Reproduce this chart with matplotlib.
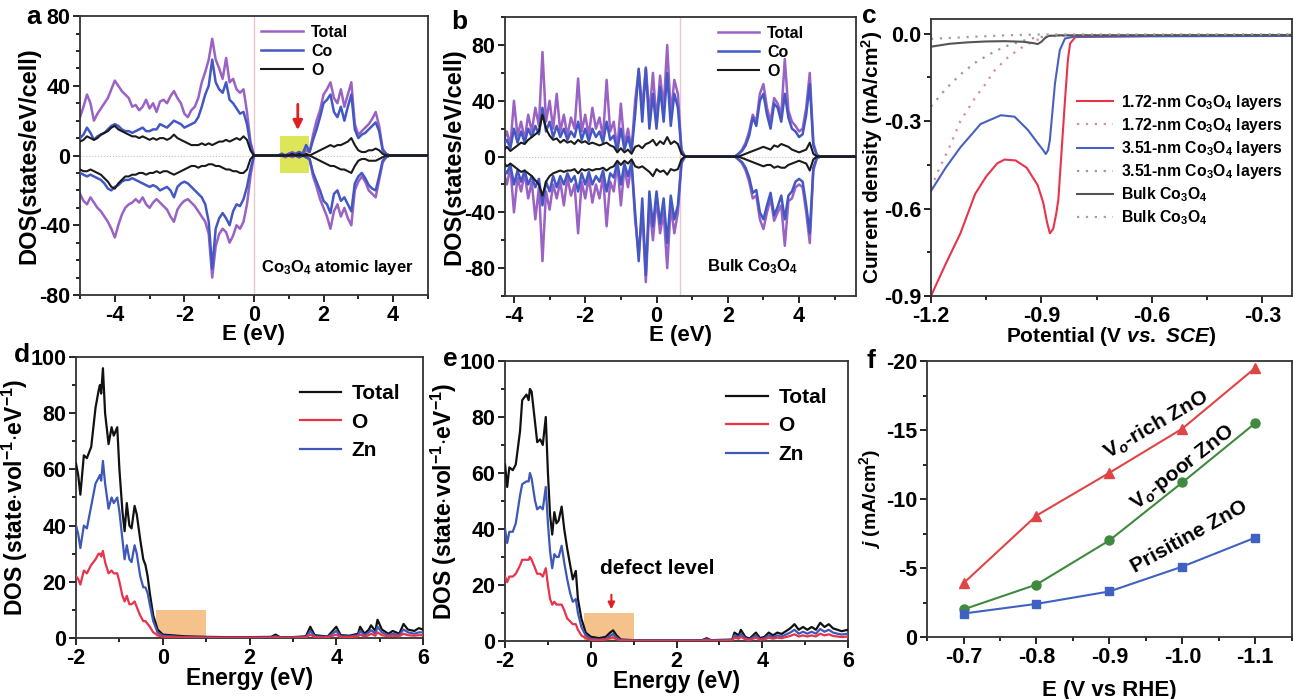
"""Six-panel figure: spin-resolved DOS of Co3O4 layers vs bulk, LSV curves,
ZnO DOS with/without O vacancies and current density vs potential."""
import numpy as np
import matplotlib
matplotlib.use("Agg")
import matplotlib.pyplot as plt
from matplotlib.ticker import MultipleLocator
from matplotlib.patches import Rectangle

# ---- panel a: Co3O4 atomic layer, 0.1 eV grid from -5 to 5 eV ----
a_energy = np.round(np.arange(-5.0, 5.01, 0.1), 1)
a_total_up = [22, 28, 35, 30, 20, 24, 27, 30, 33, 38, 43, 40, 37, 35, 33, 28, 29, 26, 28, 32,
              27, 30, 25, 31, 32, 30, 34, 37, 33, 30, 24, 22, 26, 28, 33, 42, 48, 55, 67, 55,
              50, 44, 56, 42, 44, 38, 36, 38, 25, 8, 0] + \
             [0] * 7 + [1, 0, 1, 2, 1, 2, 1, 3, 2] + \
             [12, 20, 26, 35, 38, 42, 33, 30, 38, 28, 35, 42, 18, 12, 14, 16, 18, 21, 25, 17, 4, 1] + [0] * 12
a_co_up = [10, 12, 16, 13, 9, 11, 12, 13, 15, 17, 18, 17, 15, 14, 14, 13, 14, 15, 16, 14,
           14, 15, 15, 18, 17, 16, 18, 20, 19, 18, 16, 17, 18, 19, 22, 28, 35, 40, 55, 42,
           38, 36, 42, 32, 30, 27, 24, 25, 18, 6, 0] + \
          [0] * 7 + [1, 0, 1, 1, 1, 2, 1, 6, 2] + \
          [9, 15, 22, 30, 32, 35, 25, 22, 28, 20, 28, 35, 15, 10, 12, 13, 15, 17, 19, 14, 3, 1] + [0] * 12
a_o_up = [8, 9, 11, 10, 9, 10, 12, 13, 14, 16, 17, 15, 14, 13, 12, 11, 11, 10, 11, 10,
          9, 10, 9, 10, 10, 9, 10, 12, 10, 9, 8, 7, 6, 6, 6, 7, 6, 7, 6, 7,
          8, 8, 9, 8, 9, 10, 9, 11, 9, 3, 0] + \
         [0] * 7 + [0, 0, 0, 1, 0, 1, 0, 1, 0] + \
         [1, 2, 3, 4, 5, 6, 5, 6, 6, 7, 8, 10, 6, 3, 2, 2, 3, 3, 4, 3, 1, 0] + [0] * 12
a_total_dn = [-22, -26, -28, -24, -27, -30, -32, -35, -38, -42, -47, -40, -34, -30, -28, -27, -25, -27, -24, -28,
              -30, -27, -25, -27, -29, -31, -35, -38, -31, -28, -26, -25, -27, -29, -32, -35, -38, -45, -70, -52,
              -45, -42, -44, -50, -46, -40, -42, -38, -28, -12, 0] + \
             [0] * 7 + [0, -1, 0, -1, 0, -1, 0, -1, -2] + \
             [-12, -18, -25, -30, -35, -42, -32, -28, -35, -30, -36, -40, -20, -15, -12, -15, -20, -22, -24, -14,
              -4, -1] + [0] * 12
a_co_dn = [-10, -11, -12, -11, -12, -13, -14, -16, -19, -20, -18, -17, -15, -14, -14, -13, -14, -15, -16, -17,
           -18, -17, -18, -20, -19, -18, -20, -24, -18, -16, -15, -16, -18, -20, -22, -24, -28, -38, -65, -42,
           -36, -33, -36, -40, -32, -28, -29, -25, -18, -8, 0] + \
          [0] * 7 + [0, 0, 0, 0, 0, -1, 0, -1, -2] + \
          [-10, -15, -20, -26, -28, -33, -22, -20, -26, -24, -28, -32, -16, -12, -10, -13, -17, -19, -20, -12,
           -3, -1] + [0] * 12
a_o_dn = [-8, -9, -9, -8, -9, -10, -11, -13, -15, -18, -19, -16, -14, -12, -12, -11, -11, -10, -10, -11,
          -10, -10, -9, -10, -9, -9, -10, -11, -10, -9, -8, -7, -6, -6, -7, -6, -6, -5, -5, -6,
          -6, -7, -8, -8, -9, -9, -10, -10, -8, -2, 0] + \
         [0] * 7 + [0] * 9 + \
         [-1, -2, -3, -4, -5, -6, -6, -7, -8, -8, -9, -10, -6, -3, -2, -2, -3, -3, -3, -2, -1, 0] + [0] * 12

# ---- panel b: bulk Co3O4, 0.1 eV grid from -4.3 to 5.6 eV ----
b_energy = np.round(np.arange(-4.3, 5.61, 0.1), 1)
b_total_up = [10, 18, 8, 40, 15, 25, 12, 30, 18, 35, 22, 75, 25, 40, 20, 45, 18, 30, 15, 28,
              20, 56, 18, 30, 15, 35, 20, 28, 14, 55, 18, 25, 5, 38, 8, 20, 5, 40, 62, 35,
              64, 30, 60, 25, 58, 35, 80, 30, 55, 45, 5] + [0] * 15 + \
             [2, 5, 10, 18, 30, 25, 45, 52, 35, 25, 42, 38, 30, 70, 33, 25, 22, 18, 20, 35, 60, 10, 1] + [0] * 11
b_co_up = [8, 12, 6, 20, 10, 18, 10, 20, 14, 22, 16, 35, 18, 25, 14, 22, 14, 20, 12, 18,
           14, 25, 12, 20, 11, 20, 14, 18, 10, 25, 12, 15, 4, 20, 5, 14, 4, 30, 63, 25,
           63, 20, 45, 20, 50, 25, 60, 22, 45, 35, 4] + [0] * 15 + \
          [2, 4, 8, 15, 28, 22, 40, 45, 30, 20, 38, 35, 25, 45, 28, 20, 18, 14, 16, 30, 52, 8, 1] + [0] * 11
b_o_up = [4, 7, 4, 6, 8, 10, 9, 12, 14, 16, 18, 30, 20, 15, 12, 13, 10, 12, 10, 11,
          9, 12, 10, 11, 9, 10, 9, 8, 9, 10, 8, 7, 3, 6, 3, 5, 2, 7, 8, 6,
          9, 10, 12, 8, 11, 9, 14, 9, 11, 9, 2] + [0] * 15 + \
         [0, 1, 2, 3, 4, 5, 6, 7, 6, 5, 8, 7, 9, 8, 7, 5, 4, 3, 4, 5, 10, 2, 0] + [0] * 11
b_total_dn = [-10, -20, -8, -40, -15, -25, -12, -30, -18, -45, -22, -75, -25, -38, -20, -30, -18, -35, -15, -28,
              -20, -55, -18, -30, -15, -33, -20, -30, -14, -50, -18, -25, -5, -35, -8, -22, -5, -45, -70, -40,
              -90, -35, -60, -30, -55, -40, -80, -35, -55, -40, -5] + [0] * 15 + \
             [-2, -5, -10, -18, -30, -28, -45, -52, -40, -30, -46, -40, -35, -64, -32, -30, -22, -20, -22, -40,
              -62, -10, -1] + [0] * 11
b_co_dn = [-8, -12, -6, -20, -10, -18, -10, -20, -14, -22, -16, -35, -18, -25, -14, -22, -14, -20, -12, -18,
           -14, -25, -12, -20, -11, -20, -14, -18, -10, -25, -12, -15, -4, -20, -5, -14, -4, -40, -75, -30,
           -85, -25, -50, -25, -48, -30, -62, -28, -45, -35, -4] + [0] * 15 + \
          [-2, -4, -8, -15, -26, -24, -40, -45, -35, -26, -42, -36, -28, -45, -28, -25, -18, -16, -18, -35,
           -55, -8, -1] + [0] * 11
b_o_dn = [-4, -7, -5, -7, -9, -11, -10, -12, -14, -17, -20, -28, -18, -14, -12, -11, -10, -11, -10, -10,
          -9, -12, -9, -10, -9, -10, -9, -9, -8, -10, -8, -7, -3, -6, -3, -5, -2, -7, -8, -7,
          -9, -11, -14, -9, -11, -10, -13, -9, -10, -9, -2] + [0] * 15 + \
         [0, -1, -2, -3, -4, -5, -6, -7, -6, -6, -8, -7, -8, -8, -6, -5, -4, -3, -4, -5, -10, -2, 0] + [0] * 11
b_fermi = 0.65

# ---- panel c: LSV curves (potential V vs SCE, current mA/cm2) ----
c_red_v = [-1.2, -1.16, -1.12, -1.08, -1.05, -1.02, -1.0, -0.97, -0.94, -0.91, -0.895, -0.885, -0.877,
           -0.868, -0.86, -0.854, -0.845, -0.836, -0.828, -0.822, -0.808, -0.6, -0.2]
c_red_j = [-0.9, -0.79, -0.685, -0.55, -0.49, -0.445, -0.432, -0.435, -0.46, -0.52, -0.58, -0.645, -0.685,
           -0.67, -0.62, -0.57, -0.4, -0.23, -0.09, -0.034, -0.012, -0.008, -0.008]
c_blue_v = [-1.2, -1.16, -1.12, -1.065, -1.01, -0.973, -0.937, -0.909, -0.895, -0.888, -0.882, -0.877,
            -0.863, -0.85, -0.836, -0.81, -0.2]
c_blue_j = [-0.54, -0.46, -0.39, -0.31, -0.28, -0.285, -0.33, -0.377, -0.40, -0.413, -0.40, -0.365,
            -0.17, -0.057, -0.017, -0.01, -0.008]
c_bulk_v = [-1.2, -1.15, -1.1, -1.05, -1.0, -0.95, -0.92, -0.91, -0.9, -0.89, -0.88, -0.85, -0.2]
c_bulk_j = [-0.045, -0.035, -0.03, -0.027, -0.026, -0.028, -0.033, -0.036, -0.028, -0.015, -0.008,
            -0.006, -0.005]
c_red_dot_v = [-1.2, -1.18, -1.15, -1.12, -1.08, -1.05, -1.03, -0.99, -0.95, -0.92, -0.89, -0.86, -0.2]
c_red_dot_j = [-0.53, -0.47, -0.39, -0.30, -0.22, -0.17, -0.13, -0.08, -0.045, -0.025, -0.012, -0.008, -0.005]
c_blue_dot_v = [-1.2, -1.16, -1.12, -1.08, -1.04, -1.0, -0.96, -0.92, -0.88, -0.84, -0.2]
c_blue_dot_j = [-0.25, -0.19, -0.14, -0.10, -0.07, -0.045, -0.028, -0.015, -0.008, -0.005, -0.004]
c_bulk_dot_v = [-1.2, -1.1, -1.0, -0.9, -0.2]
c_bulk_dot_j = [-0.018, -0.012, -0.006, -0.003, -0.002]
c_labels = ["1.72-nm Co$_3$O$_4$ layers", "1.72-nm Co$_3$O$_4$ layers",
            "3.51-nm Co$_3$O$_4$ layers", "3.51-nm Co$_3$O$_4$ layers",
            "Bulk Co$_3$O$_4$", "Bulk Co$_3$O$_4$"]

# ---- panel d: pristine ZnO DOS ----
d_energy = [-2.0, -1.95, -1.9, -1.82, -1.75, -1.65, -1.55, -1.48, -1.45, -1.42, -1.38, -1.33, -1.25, -1.18,
            -1.13, -1.05, -1.0, -0.93, -0.88, -0.83, -0.77, -0.72, -0.65, -0.6, -0.52, -0.45, -0.4, -0.35,
            -0.3, -0.22, -0.12, 0.0, 0.5, 1.0, 1.5, 2.0, 2.5, 2.6, 2.7, 3.0, 3.3, 3.4, 3.5, 3.8, 4.0, 4.1,
            4.3, 4.5, 4.55, 4.65, 4.75, 4.8, 4.9, 4.95, 5.05, 5.2, 5.3, 5.45, 5.55, 5.65, 5.8, 5.9, 6.0]
d_total = [62, 58, 51, 65, 64, 68, 82, 88, 90, 87, 96, 80, 69, 75, 72, 75, 60, 45, 38, 48, 40, 39, 47, 44,
           35, 28, 26, 22, 16, 8, 3, 1.2, 0.6, 0.4, 0.3, 0.3, 0.4, 1.2, 0.3, 0.3, 0.6, 4, 1, 0.5, 4, 1,
           0.8, 1.5, 4, 1.5, 3, 4.5, 2.5, 6.5, 3, 1.5, 2.5, 1.5, 5, 3, 2.5, 3.5, 3]
d_zn = [40, 37, 32, 40, 39, 47, 55, 57, 58, 56, 63, 55, 46, 50, 48, 50, 45, 35, 28, 33, 28, 27, 33, 30,
        22, 18, 18, 16, 12, 6, 2, 0.8, 0.3, 0.2, 0.15, 0.15, 0.2, 0.6, 0.15, 0.15, 0.3, 2.5, 0.6, 0.3, 2.5,
        0.6, 0.5, 1, 2.5, 1, 2, 2.8, 1.5, 4, 2, 1, 1.5, 1, 3, 2, 1.5, 2, 2]
d_o = [22, 21, 19, 24, 23, 26, 28, 30, 30, 29, 31, 27, 23, 24, 23, 23, 20, 15, 13, 15, 12, 12, 13, 11,
       8, 6, 6, 5, 4, 2, 1, 0.4, 0.2, 0.1, 0.1, 0.1, 0.1, 0.3, 0.1, 0.1, 0.2, 1.2, 0.3, 0.2, 1.2,
       0.3, 0.3, 0.6, 1.2, 0.5, 1, 1.5, 0.8, 2, 1, 0.6, 0.8, 0.6, 1.5, 1, 0.8, 1, 1]

# ---- panel e: ZnO with O vacancies ----
e_energy = [-2.0, -1.95, -1.9, -1.82, -1.75, -1.65, -1.6, -1.5, -1.45, -1.42, -1.38, -1.3, -1.25, -1.18,
            -1.12, -1.05, -1.0, -0.95, -0.9, -0.85, -0.8, -0.75, -0.68, -0.62, -0.55, -0.48, -0.42, -0.35,
            -0.3, -0.22, -0.12, 0.0, 0.2, 0.35, 0.45, 0.52, 0.6, 0.7, 1.0, 1.5, 2.0, 2.6, 2.7, 2.8, 3.3,
            3.35, 3.45, 3.5, 3.6, 3.7, 3.85, 3.95, 4.05, 4.15, 4.25, 4.35, 4.45, 4.55, 4.65, 4.75, 4.85,
            4.95, 5.05, 5.15, 5.25, 5.35, 5.45, 5.55, 5.65, 5.75, 5.85, 6.0]
e_total = [63, 55, 62, 61, 63, 75, 86, 88, 86, 90, 89, 78, 71, 72, 70, 80, 60, 45, 38, 46, 42, 43, 48, 40,
           33, 27, 22, 25, 15, 8, 3, 1.5, 1, 1.5, 3, 3.8, 2, 0.5, 0.3, 0.3, 0.3, 0.3, 1, 0.3, 0.5, 3, 2, 4,
           1.5, 0.8, 3, 1, 1.5, 3, 2, 3, 2.5, 3.5, 4.5, 6, 4, 5, 4, 5, 4, 6.5, 5, 6, 4.5, 4, 3.5, 4]
e_zn = [40, 35, 39, 39, 42, 52, 56, 57, 57, 60, 58, 50, 47, 48, 47, 55, 42, 32, 26, 31, 30, 30, 34, 28,
        22, 17, 14, 15, 10, 5, 2, 0.8, 0.5, 0.8, 1.8, 2.5, 1.2, 0.3, 0.2, 0.2, 0.2, 0.2, 0.6, 0.2, 0.3,
        2, 1.3, 2.5, 1, 0.5, 2, 0.6, 1, 2, 1.3, 2, 1.6, 2.3, 3, 4, 2.6, 3.3, 2.6, 3.3, 2.6, 4.3, 3.3, 4,
        3, 2.6, 2.3, 2.6]
e_o = [23, 21, 23, 23, 24, 27, 29, 29, 29, 30, 29, 26, 24, 24, 23, 26, 20, 15, 13, 14, 13, 13, 13, 11,
       8, 7, 6, 6, 4, 2, 1, 0.4, 0.3, 0.5, 1, 1.3, 0.6, 0.2, 0.1, 0.1, 0.1, 0.1, 0.4, 0.1, 0.2,
       1.2, 0.8, 1.5, 0.6, 0.3, 1.2, 0.4, 0.6, 1.2, 0.8, 1.2, 1, 1.4, 1.8, 2.4, 1.6, 2, 1.6, 2, 1.6,
       2.6, 2, 2.4, 1.8, 1.6, 1.4, 1.6]

# ---- panel f: current density vs potential (V vs RHE) ----
f_potential = [-0.7, -0.8, -0.9, -1.0, -1.1]
f_rich = [-3.9, -8.8, -11.9, -15.1, -19.5]
f_poor = [-2.0, -3.8, -7.0, -11.2, -15.5]
f_pristine = [-1.7, -2.4, -3.3, -5.1, -7.2]

PURPLE = "#9a62c4"
BLUE = "#4458c4"
RED = "#e8334a"
FS_TICK = 15.5


def style_axis(ax):
    ax.tick_params(which="both", direction="out", labelsize=FS_TICK, width=1.2, pad=2)
    ax.tick_params(which="major", length=5)
    ax.tick_params(which="minor", length=3)
    for s in ax.spines.values():
        s.set_linewidth(1.3)
        s.set_color("#333333")


def spin_panel(ax, x, up, dn, fermi, leg_x):
    total_up, co_up, o_up = up
    total_dn, co_dn, o_dn = dn
    ax.axhline(0, color="#d8b8c0", lw=0.8, ls=":", zorder=1)
    ax.axvline(fermi, color="#e8c8d0", lw=1.0, zorder=1)
    ax.plot(x, total_up, color=PURPLE, lw=1.8, label="Total", zorder=2)
    ax.plot(x, total_dn, color=PURPLE, lw=1.8, zorder=2)
    ax.plot(x, co_up, color=BLUE, lw=1.8, label="Co", zorder=3)
    ax.plot(x, co_dn, color=BLUE, lw=1.8, zorder=3)
    ax.plot(x, o_up, color="#1a1a1a", lw=1.5, label="O", zorder=4)
    ax.plot(x, o_dn, color="#1a1a1a", lw=1.5, zorder=4)
    ax.legend(loc="upper left", bbox_to_anchor=(leg_x, 1.02), frameon=False,
              fontsize=11.5, handlelength=2.6, labelspacing=0.25, handletextpad=0.5)
    ax.set_xlabel("E (eV)", fontsize=16, labelpad=-1)
    ax.set_ylabel("DOS(states/eV/cell)", fontsize=17, labelpad=-1)


def main():
    plt.rcParams["font.family"] = ["Liberation Sans", "DejaVu Sans"]
    plt.rcParams["font.weight"] = "bold"
    plt.rcParams["axes.labelweight"] = "bold"
    plt.rcParams["axes.unicode_minus"] = False
    plt.rcParams["mathtext.fontset"] = "custom"
    plt.rcParams["mathtext.rm"] = "Liberation Sans:bold"
    plt.rcParams["mathtext.bf"] = "Liberation Sans:bold"
    plt.rcParams["mathtext.it"] = "Liberation Sans:italic:bold"

    fig = plt.figure(figsize=(12.93, 6.99), dpi=100)
    ax_a = fig.add_axes([0.0619, 0.578, 0.269, 0.399])
    ax_b = fig.add_axes([0.3906, 0.5765, 0.2715, 0.399])
    ax_c = fig.add_axes([0.720, 0.5765, 0.279, 0.3963])
    ax_d = fig.add_axes([0.0588, 0.0873, 0.2684, 0.402])
    ax_e = fig.add_axes([0.3906, 0.0830, 0.2653, 0.4006])
    ax_f = fig.add_axes([0.717, 0.0887, 0.282, 0.3948])

    # a
    spin_panel(ax_a, a_energy, (a_total_up, a_co_up, a_o_up), (a_total_dn, a_co_dn, a_o_dn), 0.0, 0.48)
    ax_a.add_patch(Rectangle((0.74, -10), 0.85, 21, color="#d6e23a", alpha=0.85, zorder=1.5, lw=0))
    ax_a.annotate("", xy=(1.26, 13), xytext=(1.26, 31),
                  arrowprops=dict(arrowstyle="-|>", color="#e02020", lw=2, mutation_scale=14))
    ax_a.text(2.4, -64, "Co$_3$O$_4$ atomic layer", ha="center", va="center", fontsize=12)
    ax_a.set_xlim(-5, 5)
    ax_a.set_ylim(-80, 80)
    ax_a.set_xticks([-4, -2, 0, 2, 4])
    ax_a.set_yticks([-80, -40, 0, 40, 80])
    ax_a.xaxis.set_minor_locator(MultipleLocator(1))
    ax_a.yaxis.set_minor_locator(MultipleLocator(10))
    style_axis(ax_a)

    # b
    spin_panel(ax_b, b_energy, (b_total_up, b_co_up, b_o_up), (b_total_dn, b_co_dn, b_o_dn), b_fermi, 0.565)
    ax_b.text(2.7, -79, "Bulk Co$_3$O$_4$", ha="center", va="center", fontsize=12)
    ax_b.set_xlim(-4.25, 5.6)
    ax_b.set_ylim(-100, 100)
    ax_b.set_xticks([-4, -2, 0, 2, 4])
    ax_b.set_yticks([-80, -40, 0, 40, 80])
    ax_b.xaxis.set_minor_locator(MultipleLocator(1))
    ax_b.yaxis.set_minor_locator(MultipleLocator(20))
    style_axis(ax_b)

    # c
    h1, = ax_c.plot(c_red_v, c_red_j, color=RED, lw=1.5)
    h2, = ax_c.plot(c_red_dot_v, c_red_dot_j, color="#e08a98", lw=1.6, ls=(0, (1, 3)))
    h3, = ax_c.plot(c_blue_v, c_blue_j, color="#4a60c0", lw=1.5)
    h4, = ax_c.plot(c_blue_dot_v, c_blue_dot_j, color="#9a96ac", lw=1.6, ls=(0, (1, 3)))
    h5, = ax_c.plot(c_bulk_v, c_bulk_j, color="#555555", lw=1.5)
    h6, = ax_c.plot(c_bulk_dot_v, c_bulk_dot_j, color="#a89c9c", lw=1.6, ls=(0, (1, 3)))
    ax_c.legend([h1, h2, h3, h4, h5, h6], c_labels, loc="upper left", bbox_to_anchor=(0.365, 0.785),
                frameon=False, fontsize=11.3, handlelength=2.3, labelspacing=0.27, handletextpad=0.5)
    ax_c.set_xlim(-1.2, -0.22)
    ax_c.set_ylim(-0.9, 0.05)
    ax_c.set_xticks([-1.2, -0.9, -0.6, -0.3])
    ax_c.set_xticklabels(["-1.2", "-0.9", "-0.6", "-0.3"])
    ax_c.set_yticks([0.0, -0.3, -0.6, -0.9])
    ax_c.set_yticklabels(["0.0", "-0.3", "-0.6", "-0.9"])
    ax_c.xaxis.set_minor_locator(MultipleLocator(0.15))
    ax_c.yaxis.set_minor_locator(MultipleLocator(0.15))
    ax_c.set_xlabel("Potential (V $\\it{vs.}$ $\\it{SCE}$)", fontsize=15, labelpad=-1)
    ax_c.set_ylabel("Current density (mA/cm$^2$)", fontsize=15, labelpad=-1)
    style_axis(ax_c)

    # d and e
    for ax, x, tot, o, zn in [(ax_d, d_energy, d_total, d_o, d_zn), (ax_e, e_energy, e_total, e_o, e_zn)]:
        ax.add_patch(Rectangle((-0.15, 0), 1.15, 10, color="#f5b878", alpha=0.85, lw=0, zorder=1))
        ax.plot(x, tot, color="#111111", lw=1.6, label="Total", zorder=3)
        ax.plot(x, o, color=RED, lw=1.6, label="O", zorder=4)
        ax.plot(x, zn, color="#3d58b8", lw=1.6, label="Zn", zorder=3)
        ax.legend(loc="upper left", bbox_to_anchor=(0.59, 0.97), frameon=False,
                  fontsize=15, handlelength=2.0, labelspacing=0.45, handletextpad=0.5)
        ax.set_xlim(-2, 6)
        ax.set_ylim(0, 100)
        ax.set_xticks([-2, 0, 2, 4, 6])
        ax.set_yticks([0, 20, 40, 60, 80, 100])
        ax.xaxis.set_minor_locator(MultipleLocator(1))
        ax.yaxis.set_minor_locator(MultipleLocator(10))
        ax.set_xlabel("Energy (eV)", fontsize=16.5, labelpad=-1)
        ax.set_ylabel("DOS (state$\\cdot$vol$^{-1}$$\\cdot$eV$^{-1}$)", fontsize=16.5, labelpad=0)
        style_axis(ax)
    ax_e.text(1.55, 26, "defect level", ha="center", va="center", fontsize=15)
    ax_e.annotate("", xy=(0.48, 10.3), xytext=(0.48, 17.5),
                  arrowprops=dict(arrowstyle="-|>", color="#e02020", lw=1.5, mutation_scale=10))

    # f
    ax_f.plot(f_potential, f_rich, color="#e04545", marker="^", ms=7, lw=1.5)
    ax_f.plot(f_potential, f_poor, color="#3f8a3f", marker="o", ms=6.5, lw=1.5)
    ax_f.plot(f_potential, f_pristine, color="#3f62c2", marker="s", ms=6, lw=1.5)
    ax_f.text(-0.965, -15.4, "V$_o$-rich ZnO", rotation=30, ha="center", va="center", fontsize=15)
    ax_f.text(-1.0, -12.3, "V$_o$-poor ZnO", rotation=38, ha="center", va="center", fontsize=15)
    ax_f.text(-1.01, -7.3, "Prisitine ZnO", rotation=29, ha="center", va="center", fontsize=15)
    ax_f.set_xlim(-0.65, -1.15)
    ax_f.set_ylim(0, -20)
    ax_f.set_xticks(f_potential)
    ax_f.set_xticklabels(["-0.7", "-0.8", "-0.9", "-1.0", "-1.1"])
    ax_f.set_yticks([0, -5, -10, -15, -20])
    ax_f.set_yticklabels(["0", "-5", "-10", "-15", "-20"])
    ax_f.xaxis.set_minor_locator(MultipleLocator(0.05))
    ax_f.yaxis.set_minor_locator(MultipleLocator(2.5))
    ax_f.set_xlabel("E (V vs RHE)", fontsize=16, labelpad=9)
    ax_f.set_ylabel("$\\it{j}$ (mA/cm$^2$)", fontsize=14, labelpad=2)
    style_axis(ax_f)

    # panel letters
    for x, y, s in [(0.020, 0.975, "a"), (0.349, 0.968, "b"), (0.667, 0.977, "c"),
                    (0.011, 0.492, "d"), (0.343, 0.486, "e"), (0.670, 0.483, "f")]:
        fig.text(x, y, s, fontsize=19, fontweight="bold", va="center")

    fig.savefig("out.png", dpi=100)


if __name__ == "__main__":
    main()
